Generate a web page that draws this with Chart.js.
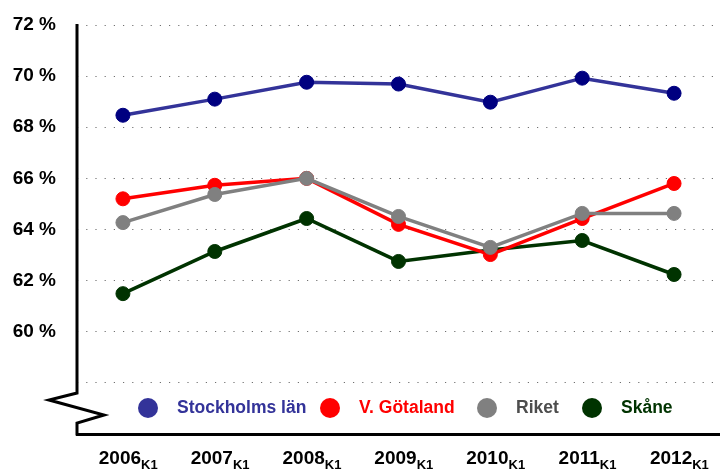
<!DOCTYPE html>
<html>
<head>
<meta charset="utf-8">
<script src="https://cdn.jsdelivr.net/npm/chart.js@4"></script>
<style>
  html, body { margin: 0; padding: 0; background: #fff; }
  #wrap { width: 720px; height: 469px; }
</style>
</head>
<body>
<div id="wrap"><canvas id="grafico"></canvas></div>
<script>
// årtal (första kvartalet)
const years = ['2006', '2007', '2008', '2009', '2010', '2011', '2012'];
const quarterTag = 'K1';

// andel i procent
const stockholm = [68.47, 69.1, 69.76, 69.69, 68.98, 69.92, 69.33];
const vGotaland = [65.2, 65.73, 66.0, 64.2, 63.02, 64.43, 65.8];
const riket = [64.27, 65.37, 66.0, 64.51, 63.3, 64.63, 64.63];
const skane = [61.49, 63.14, 64.43, 62.75, 63.2, 63.57, 62.24];

const seriesNames = ['Stockholms län', 'V. Götaland', 'Riket', 'Skåne'];
const yTickValues = [60, 62, 64, 66, 68, 70, 72];

const FONT = 'Arial, "Liberation Sans", sans-serif';

// y-axel med axelbrott, x-etiketter med nedsänkt K1 och legenden inuti diagrammet
const extras = {
  id: 'extras',
  afterDraw(chart) {
    const { ctx, chartArea } = chart;
    const { left, bottom } = chartArea;
    const yScale = chart.scales.y;
    const xScale = chart.scales.x;
    ctx.save();

    // y-axel med brytsymbol
    ctx.strokeStyle = '#000';
    ctx.lineWidth = 3;
    ctx.lineJoin = 'miter';
    ctx.beginPath();
    ctx.moveTo(left, yScale.getPixelForValue(72) - 1);
    ctx.lineTo(left, bottom - 41);
    ctx.lineTo(left - 28, bottom - 34);
    ctx.lineTo(left + 27, bottom - 19);
    ctx.lineTo(left, bottom - 11);
    ctx.lineTo(left, bottom + 1.5);
    ctx.stroke();

    // x-etiketter
    ctx.fillStyle = '#000';
    ctx.textBaseline = 'middle';
    ctx.textAlign = 'left';
    years.forEach((yr, i) => {
      const x = xScale.getPixelForTick(i);
      ctx.font = 'bold 19px ' + FONT;
      const w = ctx.measureText(yr).width;
      const x0 = x - w / 2 - 3;
      ctx.fillText(yr, x0, 459);
      ctx.font = 'bold 13px ' + FONT;
      ctx.fillText(quarterTag, x0 + w, 465);
    });

    // legend
    const legendY = 408;
    const legendX = [148, 330, 487, 592];
    const legendCols = ['#333399', '#ff0000', '#808080', '#003300'];
    const textCols = ['#333399', '#ff0000', '#4d4d4d', '#003300'];
    ctx.font = 'bold 17.5px ' + FONT;
    seriesNames.forEach((name, i) => {
      const cx = legendX[i];
      ctx.fillStyle = legendCols[i];
      ctx.beginPath();
      ctx.arc(cx, legendY, 10, 0, Math.PI * 2);
      ctx.fill();
      ctx.fillStyle = textCols[i];
      ctx.fillText(name, cx + 29, legendY);
    });

    ctx.restore();
  }
};

const ctx = document.getElementById('grafico').getContext('2d');

const linje = (label, data, line, point, order) => ({
  label: label,
  data: data,
  borderColor: line,
  backgroundColor: point,
  pointBackgroundColor: point,
  pointBorderColor: point,
  pointRadius: 7,
  pointBorderWidth: 1,
  borderWidth: 3.5,
  tension: 0,
  order: order
});

new Chart(ctx, {
  type: 'line',
  data: {
    labels: years,
    datasets: [
      linje(seriesNames[0], stockholm, '#333399', '#000080', 0),
      linje(seriesNames[1], vGotaland, '#ff0000', '#ff0000', 2),
      linje(seriesNames[2], riket, '#808080', '#808080', 1),
      linje(seriesNames[3], skane, '#003300', '#003300', 3)
    ]
  },
  options: {
    responsive: true,
    maintainAspectRatio: false,
    animation: false,
    layout: { autoPadding: false, padding: { top: 25, right: 0, left: 0, bottom: 0 } },
    plugins: {
      legend: { display: false },
      tooltip: { enabled: false }
    },
    scales: {
      x: {
        offset: true,
        grid: { display: false },
        border: { display: true, color: '#000', width: 3 },
        ticks: { display: false },
        afterFit(scale) { scale.height = 35; }
      },
      y: {
        min: 56,
        max: 72,
        border: { display: false, dash: [1.2, 8] },
        grid: {
          drawTicks: false,
          color: (c) => (c.tick && c.tick.value === 56 ? 'rgba(0,0,0,0)' : '#707070'),
          lineWidth: 1
        },
        ticks: {
          stepSize: 2,
          padding: 21,
          color: '#000',
          font: { family: FONT, size: 19, weight: 'bold' },
          callback: (v) => (yTickValues.includes(v) ? v + ' %' : '')
        },
        afterFit(scale) {
          scale.width = 77;
          scale.paddingTop = 12;
          scale.paddingBottom = 0;
        }
      }
    }
  },
  plugins: [extras]
});
</script>
</body>
</html>
